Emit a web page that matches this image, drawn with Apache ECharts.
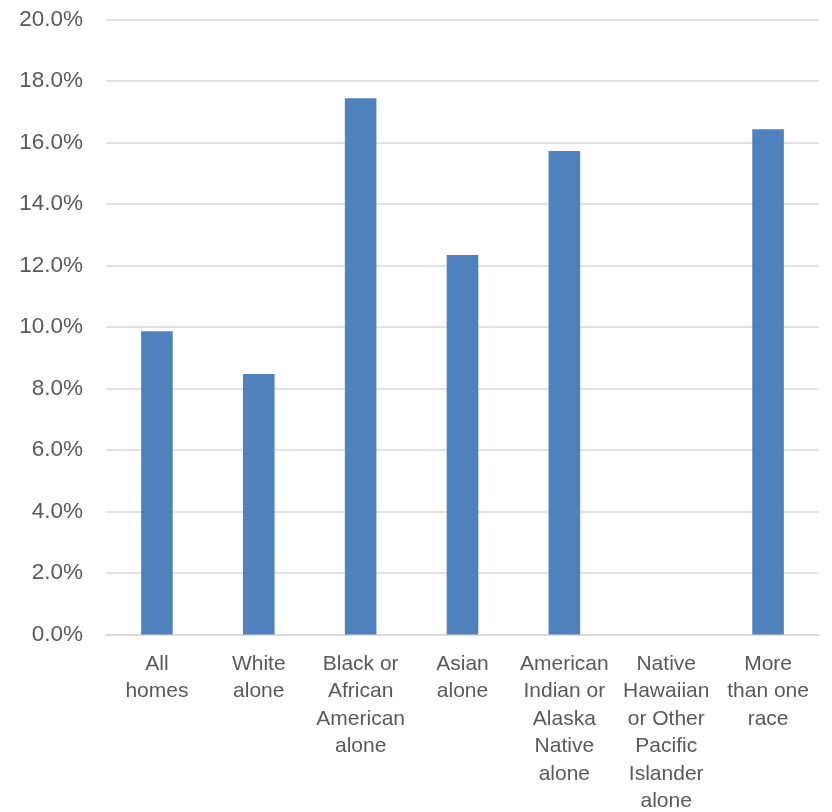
<!DOCTYPE html>
<html>
<head>
<meta charset="utf-8">
<script src="https://cdn.jsdelivr.net/npm/echarts@6/dist/echarts.min.js"></script>
<style>
  html, body { margin: 0; padding: 0; background: #fff; }
  #chart { width: 832px; height: 812px; }
</style>
</head>
<body>
<div id="chart"></div>
<script>
// categories (line breaks as in the picture)
var categories = [
    'All\nhomes',
    'White\nalone',
    'Black or\nAfrican\nAmerican\nalone',
    'Asian\nalone',
    'American\nIndian or\nAlaska\nNative\nalone',
    'Native\nHawaiian\nor Other\nPacific\nIslander\nalone',
    'More\nthan one\nrace'
];
// share, in percent (Native Hawaiian has no bar)
var values = [9.86, 8.47, 17.44, 12.34, 15.72, null, 16.43];
var yTicks = [0, 2, 4, 6, 8, 10, 12, 14, 16, 18, 20];

var myChart = echarts.init(document.getElementById('chart'));

var option = {
    animation: false,
    grid: {
        left: 106,
        right: 13,
        top: 19.5,
        bottom: 177.5,
        outerBoundsMode: 'none'
    },
    xAxis: {
        type: 'category',
        data: categories,
        axisLine: { lineStyle: { color: '#d9d9d9', width: 1.5 } },
        axisTick: { show: false },
        axisLabel: {
            interval: 0,
            color: '#595959',
            fontFamily: '"Liberation Sans", Arial, sans-serif',
            fontSize: 21,
            lineHeight: 27.4,
            margin: 16
        }
    },
    yAxis: {
        type: 'value',
        min: yTicks[0],
        max: yTicks[yTicks.length - 1],
        interval: 2,
        axisLine: { show: false },
        axisTick: { show: false },
        splitLine: { lineStyle: { color: '#d9d9d9', width: 1.5 } },
        axisLabel: {
            color: '#595959',
            fontFamily: '"Liberation Sans", Arial, sans-serif',
            fontSize: 22.5,
            margin: 23,
            formatter: function (v) { return v.toFixed(1) + '%'; }
        }
    },
    series: [{
        type: 'bar',
        data: values,
        barWidth: '31%',
        itemStyle: { color: '#4f81bd' }
    }]
};

myChart.setOption(option);
</script>
</body>
</html>
